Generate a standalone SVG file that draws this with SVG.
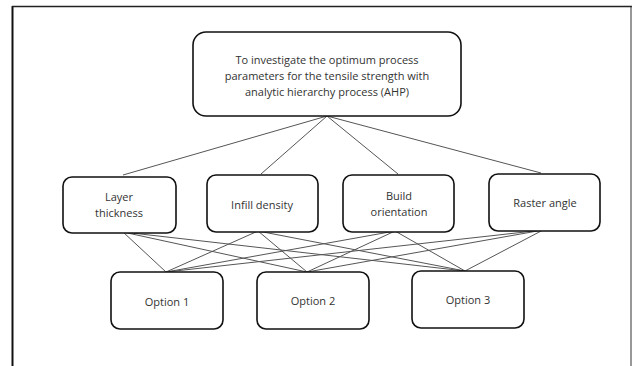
<svg xmlns="http://www.w3.org/2000/svg" width="632" height="366" viewBox="0 0 632 366">
<style>
.box{fill:#fff;stroke:#111;stroke-width:1.6}
.t{font-family:"Open Sans","Liberation Sans",sans-serif;font-size:11px;fill:#333;text-anchor:middle}
.c line{stroke:#555;stroke-width:1}
</style>
<rect width="632" height="366" fill="#fff"/>
<g id="frame">
<line x1="12.5" y1="6" x2="12.5" y2="366" stroke="#111" stroke-width="2"/>
<line x1="12" y1="6.5" x2="632" y2="6.5" stroke="#222" stroke-width="1.5"/>
<line x1="631" y1="6" x2="631" y2="366" stroke="#333" stroke-width="1"/>
</g>
<g class="c" id="connectors">
<line x1="327" y1="116" x2="123" y2="175"/>
<line x1="327" y1="116" x2="261" y2="174"/>
<line x1="327" y1="116" x2="398" y2="174"/>
<line x1="327" y1="116" x2="541" y2="173"/>
<line x1="123" y1="232" x2="166" y2="272"/>
<line x1="123" y1="232" x2="307" y2="272"/>
<line x1="123" y1="232" x2="465" y2="271"/>
<line x1="258" y1="231" x2="166" y2="272"/>
<line x1="258" y1="231" x2="307" y2="272"/>
<line x1="258" y1="231" x2="465" y2="271"/>
<line x1="395" y1="231" x2="166" y2="272"/>
<line x1="395" y1="231" x2="307" y2="272"/>
<line x1="395" y1="231" x2="465" y2="271"/>
<line x1="543" y1="230" x2="166" y2="272"/>
<line x1="543" y1="230" x2="307" y2="272"/>
<line x1="543" y1="230" x2="465" y2="271"/>
</g>
<g id="goal">
<rect class="box" x="193" y="32" width="268" height="84" rx="13"/>
<text class="t" x="327" y="64">To investigate the optimum process</text>
<text class="t" x="327" y="80">parameters for the tensile strength with</text>
<text class="t" x="327" y="96">analytic hierarchy process (AHP)</text>
</g>
<g id="layer">
<rect class="box" x="63" y="177" width="113" height="56" rx="9"/>
<text class="t" x="119" y="201">Layer</text>
<text class="t" x="119" y="217">thickness</text>
</g>
<g id="infill">
<rect class="box" x="207" y="175" width="111" height="57" rx="9"/>
<text class="t" x="262" y="209">Infill density</text>
</g>
<g id="build">
<rect class="box" x="343" y="175" width="111" height="57" rx="9"/>
<text class="t" x="399" y="200">Build</text>
<text class="t" x="399" y="216">orientation</text>
</g>
<g id="raster">
<rect class="box" x="489" y="174" width="111" height="57" rx="9"/>
<text class="t" x="545" y="207">Raster angle</text>
</g>
<g id="opt1">
<rect class="box" x="111" y="272" width="112" height="57" rx="9"/>
<text class="t" x="167" y="306">Option 1</text>
</g>
<g id="opt2">
<rect class="box" x="257" y="272" width="112" height="57" rx="9"/>
<text class="t" x="313" y="305">Option 2</text>
</g>
<g id="opt3">
<rect class="box" x="412" y="271" width="112" height="57" rx="9"/>
<text class="t" x="468" y="304">Option 3</text>
</g>
</svg>
